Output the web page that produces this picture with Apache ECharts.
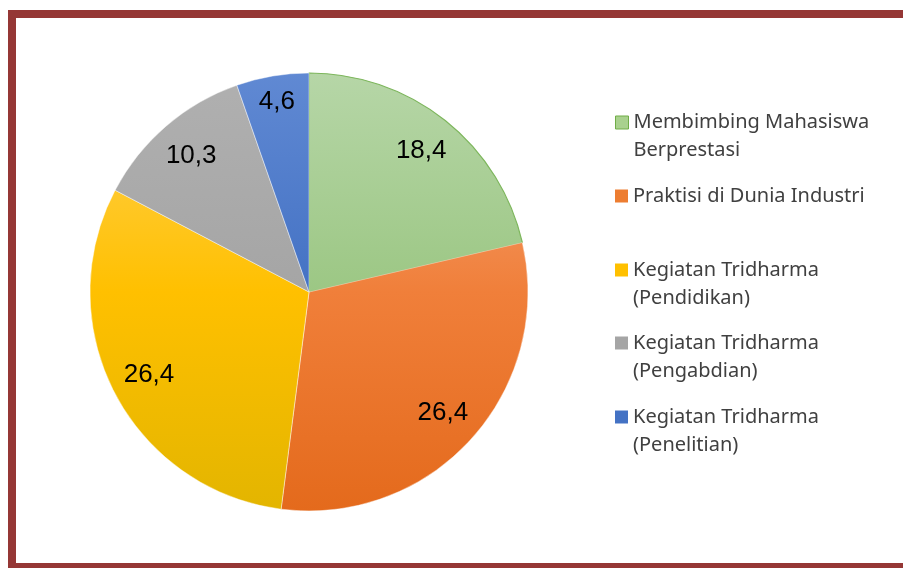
<!DOCTYPE html>
<html>
<head>
<meta charset="utf-8">
<script src="https://cdn.jsdelivr.net/npm/echarts@6/dist/echarts.min.js"></script>
<style>
  html, body { margin: 0; padding: 0; background: #fff; overflow: hidden; }
  #frame {
    position: absolute; left: 8px; top: 10px; width: 1000px; height: 545px;
    border-top: 8px solid #953735; border-left: 8px solid #953735; border-bottom: 8px solid #953735;
  }
  #chart { position: absolute; left: 0; top: 0; width: 903px; height: 568px; }
</style>
</head>
<body>
<div id="frame"></div>
<div id="chart"></div>
<script>
// slice names (legend text, with line breaks as in the picture)
const names = [
  "Membimbing Mahasiswa\nBerprestasi",
  "Praktisi di Dunia Industri",
  "Kegiatan Tridharma\n(Pendidikan)",
  "Kegiatan Tridharma\n(Pengabdian)",
  "Kegiatan Tridharma\n(Penelitian)"
];
const values = [18.4, 26.4, 26.4, 10.3, 4.6];
// gradient stops: top, middle, bottom
const colorsTop = ["#b6d6a7", "#f6aa80", "#ffd25a", "#b0b0b0", "#6089d3"];
const colorsMid = ["#9cc784", "#f07f3a", "#ffc000", "#a5a5a5", "#4472c4"];
const colorsBot = ["#92c078", "#e46a1c", "#e3b500", "#979797", "#3962b6"];
// flat colours of the legend squares
const legendColors = ["#a9d18e", "#ed7d31", "#ffc000", "#a5a5a5", "#4472c4"];

const chart = echarts.init(document.getElementById("chart"));

const cx = 309, cy = 292, R = 219;
// first-line centre of each legend entry
const legendCenters = [122, 196, 270, 343, 417];
const LH = 28;

function grad(i) {
  return {
    type: "linear", x: 0, y: cy - R, x2: 0, y2: cy + R, global: true,
    colorStops: [
      { offset: 0, color: colorsTop[i] },
      { offset: 0.5, color: colorsMid[i] },
      { offset: 1, color: colorsBot[i] }
    ]
  };
}

const pieData = names.map((n, i) => ({
  name: n,
  value: values[i],
  itemStyle: {
    color: grad(i),
    borderColor: i === 0 ? "#7db65c" : "rgba(255,255,255,0.55)",
    borderWidth: i === 0 ? 1.2 : 0.8
  }
}));

// tall icon box with the square at the first text line
const tallIcon = "path://M0,0M0,7.5h13v13h-13zM13,56";

const legends = names.map((n, i) => {
  const multi = n.indexOf("\n") >= 0;
  return {
    data: [{
      name: n,
      itemStyle: {
        color: legendColors[i],
        borderColor: i === 0 ? "#70ad47" : legendColors[i],
        borderWidth: i === 0 ? 1 : 0
      }
    }],
    left: 615,
    top: legendCenters[i] - LH / 2,
    padding: 0,
    itemWidth: 13,
    itemHeight: multi ? 2 * LH : 13,
    icon: multi ? tallIcon : "rect",
    selectedMode: false,
    textStyle: {
      fontFamily: "Noto Sans",
      fontSize: 20,
      color: "#404040",
      lineHeight: LH
    }
  };
});

const option = {
  animation: false,
  legend: legends,
  series: [
    {
      type: "pie",
      center: [cx, cy],
      radius: [0, R],
      startAngle: 90,
      clockwise: true,
      label: { show: false },
      labelLine: { show: false },
      emphasis: { disabled: true },
      data: pieData
    },
    {
      // transparent ring only used to place the value labels
      type: "pie",
      center: [cx, cy],
      radius: [R * 0.62, R],
      startAngle: 90,
      clockwise: true,
      silent: true,
      itemStyle: { color: "transparent", borderWidth: 0 },
      label: {
        show: true,
        position: "inside",
        fontFamily: "Liberation Sans",
        fontSize: 26,
        color: "#000",
        formatter: p => String(p.value).replace(".", ",")
      },
      labelLine: { show: false },
      emphasis: { disabled: true },
      data: names.map((n, i) => ({
        name: n,
        value: values[i],
        // the small slice's label sits nearer the rim
        label: i === 4 ? { offset: [-2, -12] } : undefined
      }))
    }
  ]
};

chart.setOption(option);
</script>
</body>
</html>
